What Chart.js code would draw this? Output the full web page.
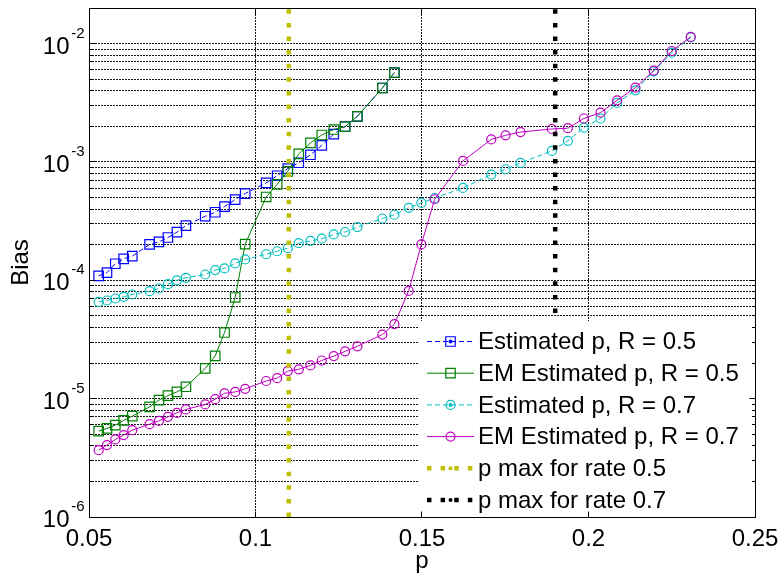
<!DOCTYPE html>
<html>
<head>
<meta charset="utf-8">
<script src="https://cdn.jsdelivr.net/npm/chart.js@4.4.0/dist/chart.umd.min.js"></script>
<style>
  html, body { margin: 0; padding: 0; background: #fff; }
  #wrap { width: 779px; height: 576px; }
</style>
</head>
<body>
<div id="wrap"><canvas id="biasChart" width="779" height="576"></canvas></div>
<script>
// p values (x) for the R = 0.5 runs and the R = 0.7 runs
const pR05 = [0.0529, 0.0554, 0.0579, 0.0604, 0.0630, 0.0682, 0.0710, 0.0737, 0.0764, 0.0791,
  0.0849, 0.0879, 0.0907, 0.0939, 0.0969, 0.1032, 0.1065, 0.1097, 0.1130, 0.1165,
  0.1199, 0.1235, 0.1269, 0.1306, 0.1381, 0.1417];
const pR07 = [0.0529, 0.0554, 0.0579, 0.0604, 0.0630, 0.0682, 0.0710, 0.0737, 0.0764, 0.0791,
  0.0849, 0.0879, 0.0907, 0.0939, 0.0969, 0.1032, 0.1065, 0.1097, 0.1130, 0.1165,
  0.1199, 0.1235, 0.1269, 0.1306, 0.1381, 0.1417, 0.1460, 0.1498, 0.1538, 0.1623,
  0.1708, 0.1751, 0.1796, 0.1890, 0.1938, 0.1986, 0.2036, 0.2086, 0.2141, 0.2196,
  0.2250, 0.2307];

// bias values
const biasEst05 = [1.09e-4, 1.16e-4, 1.38e-4, 1.52e-4, 1.60e-4, 2.01e-4, 2.11e-4, 2.30e-4, 2.55e-4, 2.90e-4,
  3.48e-4, 3.76e-4, 4.20e-4, 4.81e-4, 5.41e-4, 6.65e-4, 7.65e-4, 8.80e-4, 9.85e-4, 1.15e-3,
  1.38e-3, 1.72e-3, 1.99e-3, 2.43e-3, 4.22e-3, 5.69e-3];
const biasEM05 = [5.32e-6, 5.60e-6, 5.97e-6, 6.55e-6, 7.11e-6, 8.53e-6, 9.71e-6, 1.06e-5, 1.14e-5, 1.26e-5,
  1.80e-5, 2.30e-5, 3.62e-5, 7.16e-5, 2.02e-4, 5.06e-4, 6.46e-4, 8.34e-4, 1.17e-3, 1.45e-3,
  1.69e-3, 1.88e-3, 1.99e-3, 2.43e-3, 4.22e-3, 5.69e-3];
const biasEst07 = [6.57e-5, 6.75e-5, 7.02e-5, 7.25e-5, 7.59e-5, 8.09e-5, 8.53e-5, 9.27e-5, 1.00e-4, 1.05e-4,
  1.12e-4, 1.22e-4, 1.26e-4, 1.39e-4, 1.50e-4, 1.66e-4, 1.76e-4, 1.87e-4, 2.06e-4, 2.15e-4,
  2.25e-4, 2.44e-4, 2.56e-4, 2.82e-4, 3.33e-4, 3.58e-4, 4.10e-4, 4.51e-4, 4.96e-4, 6.03e-4,
  7.83e-4, 8.68e-4, 9.81e-4, 1.24e-3, 1.51e-3, 1.95e-3, 2.33e-3, 3.15e-3, 4.03e-3, 5.83e-3,
  8.39e-3, 1.13e-2];
const biasEM07 = [3.67e-6, 4.05e-6, 4.52e-6, 4.92e-6, 5.42e-6, 6.09e-6, 6.49e-6, 7.02e-6, 7.59e-6, 8.11e-6,
  8.93e-6, 9.90e-6, 1.11e-5, 1.14e-5, 1.21e-5, 1.41e-5, 1.49e-5, 1.71e-5, 1.77e-5, 1.91e-5,
  2.10e-5, 2.29e-5, 2.51e-5, 2.77e-5, 3.48e-5, 4.26e-5, 8.14e-5, 2.01e-4, 4.84e-4, 1.02e-3,
  1.55e-3, 1.68e-3, 1.79e-3, 1.90e-3, 1.93e-3, 2.33e-3, 2.61e-3, 3.32e-3, 4.25e-3, 5.92e-3,
  8.66e-3, 1.14e-2];

// p max lines
const pMax05 = 0.11;
const pMax07 = 0.19;

const seriesLabels = [
  "Estimated p, R = 0.5",
  "EM Estimated p, R = 0.5",
  "Estimated p, R = 0.7",
  "EM Estimated p, R = 0.7",
  "p max for rate 0.5",
  "p max for rate 0.7",
];

// axes
const xMin = 0.05, xMax = 0.25;
const yMin = 1e-6, yMax = 0.02;
const xTicks = [0.05, 0.1, 0.15, 0.2, 0.25];
const xTickLabels = ["0.05", "0.1", "0.15", "0.2", "0.25"];
const yDecades = [-6, -5, -4, -3, -2];

const FONT = "'Liberation Sans', Arial, Helvetica, sans-serif";

// minor + major log grid values
const yGrid = [];
yDecades.forEach((e) => {
  for (let k = 1; k <= 9; k++) {
    const v = parseFloat((k * Math.pow(10, e)).toPrecision(3));
    if (v <= yMax) yGrid.push(v);
  }
});

const toPts = (xs, ys) => ys.map((v, i) => ({ x: xs[i], y: v }));

function seriesSet(label, xs, ys, color, dash, style, radius, order) {
  return {
    label: label,
    data: toPts(xs, ys),
    showLine: true,
    borderColor: color,
    borderWidth: 1,
    borderDash: dash,
    pointStyle: style,
    pointRadius: radius,
    pointHoverRadius: radius,
    pointBorderColor: color,
    pointBackgroundColor: "rgba(0,0,0,0)",
    pointBorderWidth: 1.2,
    tension: 0,
    order: order,
  };
}

function vLine(label, p, color, order) {
  return {
    label: label,
    data: [{ x: p, y: yMin }, { x: p, y: yMax }],
    showLine: true,
    borderColor: color,
    borderWidth: 4.5,
    borderDash: [4.5, 9.1],
    borderCapStyle: "butt",
    pointRadius: 0,
    pointHoverRadius: 0,
    order: order,
  };
}

// legend, box frame, tick marks and labels
const axesDecor = {
  id: "axesDecor",
  afterDatasetsDraw(chart) {
    const { ctx, chartArea: a, scales } = chart;
    const xs = scales.x, ys = scales.y;
    const al = (v) => Math.round(v - 0.5) + 0.5;
    ctx.save();

    // legend
    const lx = a.right - 337, ly = a.bottom - 196;
    ctx.fillStyle = "#fff";
    ctx.fillRect(lx, ly, a.right - lx, a.bottom - ly);
    chart.data.datasets.forEach((ds, i) => {
      const cy = ly + 20.5 + i * 31.7;
      const x0 = lx + 9, x1 = lx + 56, xm = (x0 + x1) / 2;
      ctx.strokeStyle = ds.borderColor;
      ctx.lineWidth = ds.borderWidth;
      ctx.lineCap = "butt";
      ctx.setLineDash(ds.borderDash || []);
      ctx.beginPath();
      ctx.moveTo(x0, cy);
      ctx.lineTo(x1, cy);
      ctx.stroke();
      ctx.setLineDash([]);
      ctx.lineWidth = 1.2;
      if (ds.pointRadius > 0) {
        ctx.beginPath();
        if (ds.pointStyle === "rect") {
          const h = ds.pointRadius * Math.SQRT1_2;
          ctx.rect(xm - h, cy - h, 2 * h, 2 * h);
        } else {
          ctx.arc(xm, cy, ds.pointRadius, 0, Math.PI * 2);
        }
        ctx.stroke();
      }
      if ((ds.borderDash || []).length) {
        ctx.fillStyle = ds.borderColor;
        ctx.beginPath();
        ctx.arc(xm, cy, 2, 0, Math.PI * 2);
        ctx.fill();
      }
      ctx.fillStyle = "#000";
      ctx.font = "24px " + FONT;
      ctx.textAlign = "left";
      ctx.textBaseline = "middle";
      ctx.fillText(seriesLabels[i], lx + 60, cy + 1);
    });

    // box
    const L = al(a.left), R = al(a.right), T = al(a.top), B = al(a.bottom);
    ctx.strokeStyle = "#000";
    ctx.lineWidth = 1;
    ctx.strokeRect(L, T, R - L, B - T);

    // tick marks (inward)
    ctx.beginPath();
    xTicks.forEach((v) => {
      const px = al(xs.getPixelForValue(v));
      ctx.moveTo(px, B); ctx.lineTo(px, B - 6);
      ctx.moveTo(px, T); ctx.lineTo(px, T + 6);
    });
    yGrid.forEach((v) => {
      const py = al(ys.getPixelForValue(v));
      const len = Math.abs(Math.log10(v) - Math.round(Math.log10(v))) < 1e-9 ? 6 : 3.5;
      ctx.moveTo(L, py); ctx.lineTo(L + len, py);
      ctx.moveTo(R, py); ctx.lineTo(R - len, py);
    });
    ctx.stroke();

    // x tick labels
    ctx.fillStyle = "#000";
    ctx.font = "24px " + FONT;
    ctx.textAlign = "center";
    ctx.textBaseline = "alphabetic";
    xTicks.forEach((v, i) => {
      ctx.fillText(xTickLabels[i], xs.getPixelForValue(v), 545.5);
    });

    // y tick labels 10^e
    yDecades.forEach((e) => {
      const py = ys.getPixelForValue(Math.pow(10, e));
      ctx.textAlign = "right";
      ctx.font = "15px " + FONT;
      ctx.fillText(String(e), a.left - 4.5, py - 6);
      ctx.font = "24px " + FONT;
      ctx.fillText("10", a.left - 19.5, py + 10);
    });

    // axis titles
    ctx.font = "24px " + FONT;
    ctx.textAlign = "center";
    ctx.fillText("p", (a.left + a.right) / 2, 568);
    ctx.save();
    ctx.translate(21, (a.top + a.bottom) / 2);
    ctx.rotate(-Math.PI / 2);
    ctx.textBaseline = "middle";
    ctx.fillText("Bias", 0, 0);
    ctx.restore();

    ctx.restore();
  },
};

const gridOpts = { color: "rgba(0,0,0,0.9)", lineWidth: 1, drawTicks: false };

const ctx = document.getElementById("biasChart").getContext("2d");
new Chart(ctx, {
  type: "scatter",
  data: {
    datasets: [
      seriesSet(seriesLabels[0], pR05, biasEst05, "rgb(0,0,255)", [5, 3], "rect", 6.7, 6),
      seriesSet(seriesLabels[1], pR05, biasEM05, "rgb(0,128,0)", [], "rect", 6.7, 5),
      seriesSet(seriesLabels[2], pR07, biasEst07, "rgb(0,191,191)", [5, 3], "circle", 4.5, 4),
      seriesSet(seriesLabels[3], pR07, biasEM07, "rgb(191,0,191)", [], "circle", 4.5, 3),
      vLine(seriesLabels[4], pMax05, "rgb(191,191,0)", 2),
      vLine(seriesLabels[5], pMax07, "rgb(0,0,0)", 1),
    ],
  },
  options: {
    responsive: false,
    animation: false,
    devicePixelRatio: 1,
    layout: { padding: { left: 0, right: 24, top: 8, bottom: 0 } },
    plugins: {
      legend: { display: false },
      tooltip: { enabled: false },
      title: { display: false },
    },
    events: [],
    scales: {
      x: {
        type: "linear",
        min: xMin,
        max: xMax,
        afterBuildTicks: (s) => { s.ticks = xTicks.map((v) => ({ value: v })); },
        afterFit: (s) => { s.height = 59; },
        ticks: { display: false },
        grid: gridOpts,
        border: { display: false, dash: [2, 1] },
      },
      y: {
        type: "logarithmic",
        min: yMin,
        max: yMax,
        afterBuildTicks: (s) => { s.ticks = yGrid.map((v) => ({ value: v })); },
        afterFit: (s) => { s.width = 89; },
        ticks: { display: false },
        grid: gridOpts,
        border: { display: false, dash: [2, 1] },
      },
    },
  },
  plugins: [axesDecor],
});
</script>
</body>
</html>
